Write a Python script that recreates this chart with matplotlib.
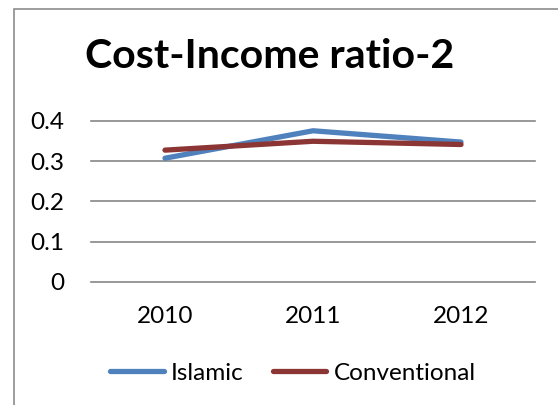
import matplotlib
matplotlib.use("Agg")
import matplotlib.pyplot as plt
from matplotlib.patches import Rectangle

# cost-income ratio by bank type
years = ["2010", "2011", "2012"]
islamic = [0.307, 0.375, 0.347]
conventional = [0.327, 0.349, 0.341]

plt.rcParams['font.family'] = ['Lato', 'DejaVu Sans']

fig = plt.figure(figsize=(5.58, 4.05), dpi=100)
fig.patch.set_facecolor('white')

# chart frame (only left and top edges fall inside the image)
fig.patches.append(Rectangle((14/558, -0.1), 1.2, 1 - 9/405 + 0.1,
                             transform=fig.transFigure, fill=False,
                             edgecolor='#8c8c8c', linewidth=1.2))

ax = fig.add_axes([91/558, 1 - 282/405, (535 - 91)/558, (282 - 120.7)/405])
x = range(len(years))
ax.plot(x, islamic, color='#4f81bd', lw=3.8, solid_capstyle='round', label='Islamic')
ax.plot(x, conventional, color='#8b3535', lw=3.8, solid_capstyle='round', label='Conventional')

ax.set_xlim(-0.5, 2.5)
ax.set_ylim(0, 0.4)
ax.set_yticks([0, 0.1, 0.2, 0.3, 0.4])
ax.set_yticklabels(['0', '0.1', '0.2', '0.3', '0.4'])
ax.set_xticks(list(x))
ax.set_xticklabels(years)
ax.tick_params(axis='both', length=0, labelsize=17.5)
ax.tick_params(axis='y', pad=19)
ax.tick_params(axis='x', pad=17)
for s in ax.spines.values():
    s.set_visible(False)
for v in [0, 0.1, 0.2, 0.3, 0.4]:
    ax.axhline(v, color='#868686', lw=1.2, zorder=0, clip_on=False)

fig.text(270/558, 1 - 57/405, 'Cost-Income ratio-2', ha='center', va='center',
         fontsize=29.5, fontweight='bold')

ax.legend(loc='center', bbox_to_anchor=(293/558, 1 - 373/405), bbox_transform=fig.transFigure,
          ncol=2, frameon=False, fontsize=17.5, handlelength=2.2, handletextpad=0.3,
          columnspacing=1.2)

fig.savefig('out.png', dpi=100)
